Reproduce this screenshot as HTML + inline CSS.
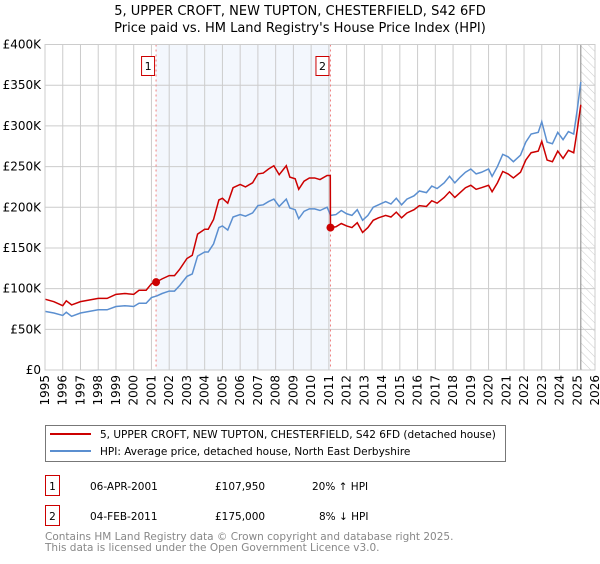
<!DOCTYPE html>
<html><head><meta charset="utf-8"><style>
body{margin:0;background:#fff;width:600px;height:560px;overflow:hidden;font-family:"DejaVu Sans","Liberation Sans",sans-serif;}
svg text{font-family:"DejaVu Sans","Liberation Sans",sans-serif;}
</style></head><body>
<svg id="chart" width="600" height="560" xmlns="http://www.w3.org/2000/svg">
<defs><pattern id="hatch" width="6" height="6" patternUnits="userSpaceOnUse" patternTransform="rotate(-45)"><line x1="0" y1="0" x2="0" y2="6" stroke="#ccc" stroke-width="1"/></pattern></defs>
<text x="300" y="15" text-anchor="middle" font-size="13" fill="#000">5, UPPER CROFT, NEW TUPTON, CHESTERFIELD, S42 6FD</text>
<text x="300" y="32" text-anchor="middle" font-size="13" fill="#000">Price paid vs. HM Land Registry's House Price Index (HPI)</text>
<g id="grid"></g>
<g id="series"></g>
<g id="axes"></g>
<g>
<rect x="45.5" y="425.5" width="460" height="36" fill="#fff" stroke="#777"/>
<line x1="50" y1="434" x2="91" y2="434" stroke="#cc0000" stroke-width="2"/>
<text x="100" y="438" font-size="10.5">5, UPPER CROFT, NEW TUPTON, CHESTERFIELD, S42 6FD (detached house)</text>
<line x1="50" y1="451" x2="91" y2="451" stroke="#5b8fd0" stroke-width="2"/>
<text x="100" y="455" font-size="10.5">HPI: Average price, detached house, North East Derbyshire</text>
</g>
<g>
<rect x="45.5" y="475.5" width="14" height="20" fill="#fff" stroke="#cc0000"/>
<text x="52.5" y="490" text-anchor="middle" font-size="10.5">1</text>
<text x="90" y="490" font-size="10.5">06-APR-2001</text>
<text x="215" y="490" font-size="10.5">£107,950</text>
<text x="312" y="490" font-size="10.5">20% ↑ HPI</text>
</g>
<g>
<rect x="45.5" y="505.5" width="14" height="20" fill="#fff" stroke="#cc0000"/>
<text x="52.5" y="520" text-anchor="middle" font-size="10.5">2</text>
<text x="90" y="520" font-size="10.5">04-FEB-2011</text>
<text x="215" y="520" font-size="10.5">£175,000</text>
<text x="319" y="520" font-size="10.5">8% ↓ HPI</text>
</g>
<text x="45" y="540" font-size="10.5" fill="#888">Contains HM Land Registry data © Crown copyright and database right 2025.</text>
<text x="45" y="551" font-size="10.5" fill="#888">This data is licensed under the Open Government Licence v3.0.</text>
</svg>
<script>
const hpiYears=[1995.0,1995.5,1996.0,1996.2,1996.5,1997.0,1997.5,1998.0,1998.5,1999.0,1999.5,2000.0,2000.3,2000.7,2001.0,2001.3,2001.6,2002.0,2002.3,2002.6,2003.0,2003.3,2003.6,2004.0,2004.2,2004.5,2004.8,2005.0,2005.3,2005.6,2006.0,2006.3,2006.7,2007.0,2007.3,2007.6,2007.9,2008.2,2008.6,2008.8,2009.1,2009.3,2009.6,2009.9,2010.2,2010.5,2010.9,2011.1,2011.4,2011.7,2012.0,2012.3,2012.6,2012.9,2013.2,2013.5,2013.8,2014.2,2014.5,2014.8,2015.1,2015.4,2015.8,2016.1,2016.5,2016.8,2017.1,2017.5,2017.8,2018.1,2018.4,2018.7,2019.0,2019.3,2019.6,2020.0,2020.2,2020.5,2020.8,2021.1,2021.4,2021.8,2022.1,2022.4,2022.8,2023.0,2023.3,2023.6,2023.9,2024.2,2024.5,2024.8,2025.0,2025.2];
const hpiValues=[72,70,67,71,66,70,72,74,74,78,79,78,82,82,89,91,94,97,97,104,115,118,140,145,145,155,175,177,172,188,191,189,193,202,203,207,210,201,210,199,197,186,195,198,198,196,200,190,191,196,192,190,197,184,190,200,203,207,204,211,203,210,214,220,218,226,223,230,238,230,237,243,247,241,243,247,238,250,265,262,256,264,280,290,292,305,280,278,292,283,293,290,320,354];
const priceYears=[1995.0,1995.5,1996.0,1996.2,1996.5,1997.0,1997.5,1998.0,1998.5,1999.0,1999.5,2000.0,2000.3,2000.7,2001.0,2001.26,2001.6,2002.0,2002.3,2002.6,2003.0,2003.3,2003.6,2004.0,2004.2,2004.5,2004.8,2005.0,2005.3,2005.6,2006.0,2006.3,2006.7,2007.0,2007.3,2007.6,2007.9,2008.2,2008.6,2008.8,2009.1,2009.3,2009.6,2009.9,2010.2,2010.5,2010.9,2011.08,2011.09,2011.4,2011.7,2012.0,2012.3,2012.6,2012.9,2013.2,2013.5,2013.8,2014.2,2014.5,2014.8,2015.1,2015.4,2015.8,2016.1,2016.5,2016.8,2017.1,2017.5,2017.8,2018.1,2018.4,2018.7,2019.0,2019.3,2019.6,2020.0,2020.2,2020.5,2020.8,2021.1,2021.4,2021.8,2022.1,2022.4,2022.8,2023.0,2023.3,2023.6,2023.9,2024.2,2024.5,2024.8,2025.0,2025.2];
const priceValues=[87,84,79,85,80,84,86,88,88,93,94,93,98,98,106,108,112,116,116,124,137,141,167,173,173,185,209,211,205,224,228,225,230,241,242,247,251,240,251,237,235,222,232,236,236,234,239,239,175,176,180,177,175,181,169,175,184,187,190,188,194,187,193,197,202,201,208,205,212,219,212,218,224,227,222,224,227,219,230,244,241,236,243,258,267,269,281,258,256,269,260,270,267,295,326];
const sales=[{x:2001.26,y:107.95,label:"1"},{x:2011.09,y:175,label:"2"}];
const yTicks=[0,50,100,150,200,250,300,350,400];
const yTickLabels=["£0","£50K","£100K","£150K","£200K","£250K","£300K","£350K","£400K"];
const xTicks=[1995,1996,1997,1998,1999,2000,2001,2002,2003,2004,2005,2006,2007,2008,2009,2010,2011,2012,2013,2014,2015,2016,2017,2018,2019,2020,2021,2022,2023,2024,2025,2026];
const dataEnd=2025.2;
const L=45,R=595,T=44.5,B=370,x0=1995,x1=2026,yMax=400;
const X=v=>L+(v-x0)/(x1-x0)*(R-L);
const Y=v=>B-v/yMax*(B-T);
const NS="http://www.w3.org/2000/svg";
function mk(tag,attrs,parent){const e=document.createElementNS(NS,tag);for(const k in attrs)e.setAttribute(k,attrs[k]);parent.appendChild(e);return e;}
const grid=document.getElementById('grid'),series=document.getElementById('series'),axes=document.getElementById('axes');
const shade=mk('rect',{x:X(sales[0].x),y:T,width:X(sales[1].x)-X(sales[0].x),height:B-T,fill:'#eef3fc',opacity:0.7},grid);


const hatch=mk('rect',{x:X(dataEnd),y:T,width:R-X(dataEnd),height:B-T,fill:'url(#hatch)'},grid);


yTicks.forEach((t,i)=>{
 const gl=mk('line',{x1:L,x2:R,y1:Y(t),y2:Y(t),stroke:'#ccc','stroke-width':1},grid);
 
 
 const tx=mk('text',{x:L-4,y:Y(t)+4,'text-anchor':'end','font-size':12},axes);
 tx.textContent=yTickLabels[i];
 
 
});
xTicks.forEach(t=>{
 const gl=mk('line',{x1:X(t),x2:X(t),y1:T,y2:B,stroke:'#ccc','stroke-width':1},grid);
 
 
 const tx=mk('text',{x:0,y:0,'text-anchor':'end','font-size':12,transform:`translate(${X(t)+4},${B+5}) rotate(-90)`},axes);
 tx.textContent=t;
 
 
});
const endLine=mk('line',{x1:X(dataEnd),x2:X(dataEnd),y1:T,y2:B,stroke:'#888','stroke-width':1},grid);


sales.forEach(s=>{
 const vl=mk('line',{x1:X(s.x),x2:X(s.x),y1:T,y2:B,stroke:'#f08080','stroke-width':1,'stroke-dasharray':'2,3'},grid);
 
 
 const bx=mk('rect',{x:X(s.x)-14.5,y:56.5,width:13,height:19,fill:'#fff',stroke:'#cc0000'},axes);
 
 
 const bt=mk('text',{x:X(s.x)-8,y:70,'text-anchor':'middle','font-size':11},axes);
 bt.textContent=s.label;
 
 
});
const hp=mk('polyline',{points:hpiYears.map((y,i)=>X(y)+','+Y(hpiValues[i])).join(' '),fill:'none',stroke:'#5b8fd0','stroke-width':1.5},series);


const pp=mk('polyline',{points:priceYears.map((y,i)=>X(y)+','+Y(priceValues[i])).join(' '),fill:'none',stroke:'#cc0000','stroke-width':1.5},series);


sales.forEach(s=>{
 const c=mk('circle',{cx:X(s.x),cy:Y(s.y),r:4,fill:'#cc0000'},series);
 
 
});
const frame=mk('rect',{x:L,y:T,width:R-L,height:B-T,fill:'none',stroke:'#ccc'},axes);


</script>
</body></html>
